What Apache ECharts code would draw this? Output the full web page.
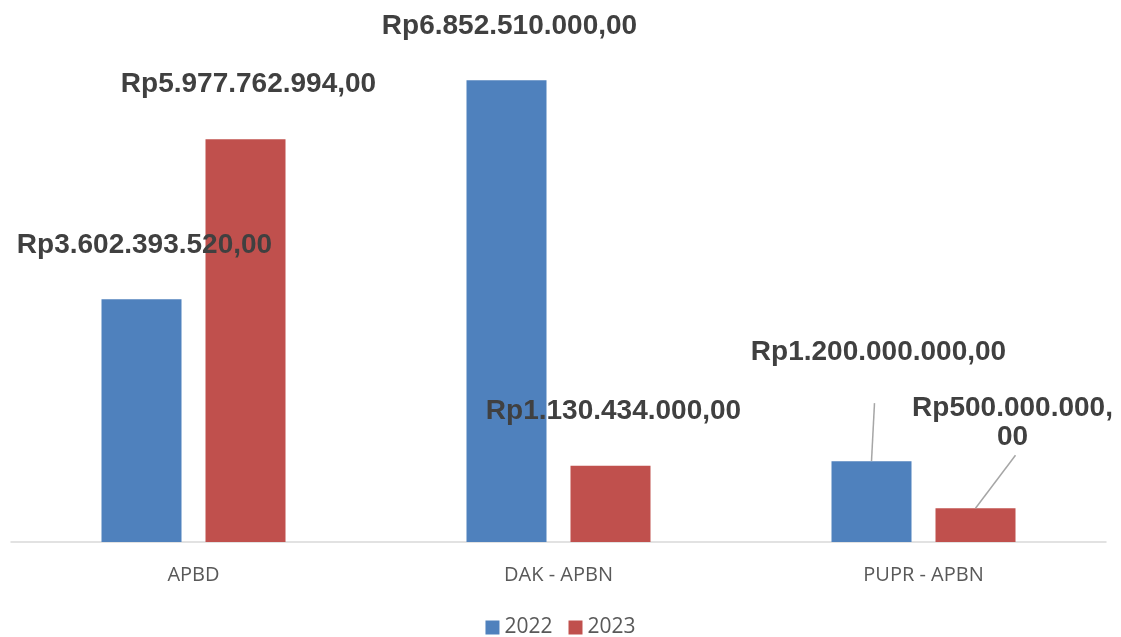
<!DOCTYPE html>
<html lang="id">

<head>
    <meta charset="utf-8">
    <title>Anggaran 2022 - 2023</title>
    <script src="https://cdn.jsdelivr.net/npm/echarts@6/dist/echarts.min.js"></script>
    <style>
        html, body { margin: 0; padding: 0; background: #fff; }
        #chart { width: 1121px; height: 637px; }
    </style>
</head>

<body>
    <div id="chart"></div>
    <script>
        // data
        var categories = ['APBD', 'DAK - APBN', 'PUPR - APBN'];
        var years = ['2022', '2023'];
        var values2022 = [3602393520, 6852510000, 1200000000];
        var values2023 = [5977762994, 1130434000, 500000000];
        var labels2022 = ['Rp3.602.393.520,00', 'Rp6.852.510.000,00', 'Rp1.200.000.000,00'];
        var labels2023 = ['Rp5.977.762.994,00', 'Rp1.130.434.000,00', 'Rp500.000.000,\n00'];

        var BAR_W = 80;
        var BAR_SHIFT = 52; // half of bar width + half of gap

        var labelStyle = {
            show: true,
            position: 'top',
            distance: 40,
            fontFamily: 'Liberation Sans, Arial, sans-serif',
            fontWeight: 'bold',
            fontSize: 28,
            lineHeight: 29,
            color: '#404040'
        };

        // labels that were pushed away from their bar (pixel offsets)
        var moved = {
            '0-2': { dx: 7, dy: -54 },
            '1-2': { dx: 37, dy: -17 }
        };
        // leader lines for those labels: which bar, and where the line ends
        var leaders = [
            { cat: 2, s: 0, dx: 3, dy: -58 },
            { cat: 2, s: 1, dx: 40, dy: -53 }
        ];

        function makeData(vals, texts) {
            return vals.map(function (v, i) {
                return { value: v, label: { formatter: texts[i] } };
            });
        }

        function layout(params) {
            var m = moved[params.seriesIndex + '-' + params.dataIndex];
            return m ? { dx: m.dx, dy: m.dy } : { dx: 3 };
        }

        var leaderData = leaders.map(function (l) {
            return [l.cat, (l.s === 0 ? values2022 : values2023)[l.cat]];
        });

        var option = {
            animation: false,
            grid: { left: 11, right: 15, top: 3, bottom: 95 },
            legend: {
                data: years,
                bottom: -6,
                icon: 'rect',
                itemWidth: 14,
                itemHeight: 14,
                itemGap: 16,
                textStyle: { fontFamily: 'Open Sans, Noto Sans, sans-serif', fontSize: 21, color: '#595959' }
            },
            xAxis: {
                type: 'category',
                data: categories,
                axisLine: { lineStyle: { color: '#d9d9d9', width: 1.5 } },
                axisTick: { show: false },
                axisLabel: { margin: 23, fontFamily: 'Open Sans, Noto Sans, sans-serif', fontSize: 20, color: '#595959' }
            },
            yAxis: {
                type: 'value',
                min: 0,
                max: 8000000000,
                show: false,
                splitLine: { show: false }
            },
            series: [{
                name: years[0],
                type: 'bar',
                barWidth: BAR_W,
                barGap: '30%',
                itemStyle: { color: '#4f81bd' },
                label: labelStyle,
                labelLayout: layout,
                data: makeData(values2022, labels2022)
            }, {
                name: years[1],
                type: 'bar',
                barWidth: BAR_W,
                barGap: '30%',
                itemStyle: { color: '#c0504d' },
                label: labelStyle,
                labelLayout: layout,
                data: makeData(values2023, labels2023)
            }, {
                type: 'custom',
                silent: true,
                z: 5,
                data: leaderData,
                renderItem: function (params, api) {
                    var l = leaders[params.dataIndex];
                    var p = api.coord([api.value(0), api.value(1)]);
                    var x = p[0] + (l.s === 0 ? -BAR_SHIFT : BAR_SHIFT);
                    return {
                        type: 'line',
                        shape: { x1: x, y1: p[1], x2: x + l.dx, y2: p[1] + l.dy },
                        style: { stroke: '#a6a6a6', lineWidth: 1.5 }
                    };
                }
            }]
        };

        var chart = echarts.init(document.getElementById('chart'));
        chart.setOption(option);
    </script>
</body>

</html>
